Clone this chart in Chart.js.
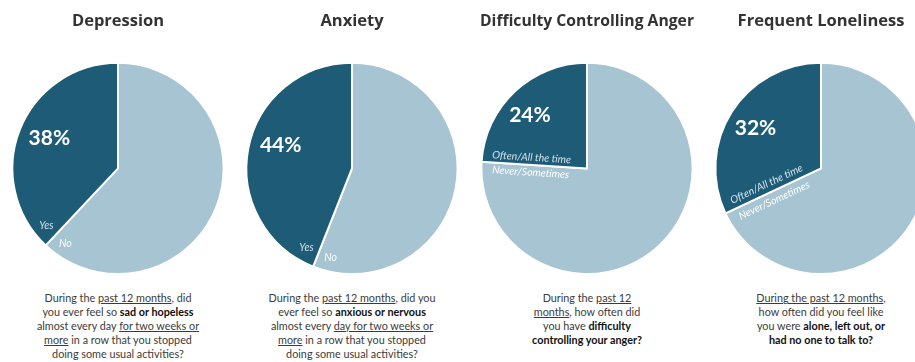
<!DOCTYPE html>
<html>
<head>
<meta charset="utf-8">
<script src="https://cdn.jsdelivr.net/npm/chart.js@4/dist/chart.umd.min.js"></script>
<style>
  html, body { margin: 0; padding: 0; background: #fff; }
  body { position: relative; width: 915px; height: 362px; overflow: hidden; }
  canvas { position: absolute; top: 0; }
  .q {
    position: absolute; top: 291px; width: 220px; text-align: center;
    font-family: Lato, "Open Sans", sans-serif; font-size: 10.8px; line-height: 13.9px;
    color: #3b3b3b;
  }
  .q b { color: #111; }
  .q u { text-decoration-thickness: 1px; text-underline-offset: 1px; }
</style>
</head>
<body>
<canvas id="c0" width="234" height="275"></canvas>
<canvas id="c1" width="234" height="275"></canvas>
<canvas id="c2" width="234" height="275"></canvas>
<canvas id="c3" width="234" height="275"></canvas>

<div class="q" id="q0">During the <u>past 12 months</u>, did<br>you ever feel so <b>sad or hopeless</b><br>almost every day <u>for two weeks or</u><br><u>more</u> in a row that you stopped<br>doing some usual activities?</div>
<div class="q" id="q1">During the <u>past 12 months</u>, did you<br>ever feel so <b>anxious or nervous</b><br>almost every <u>day for two weeks or</u><br><u>more</u> in a row that you stopped<br>doing some usual activities?</div>
<div class="q" id="q2">During the <u>past 12</u><br><u>months</u>, how often did<br>you have <b>difficulty</b><br><b>controlling your anger?</b></div>
<div class="q" id="q3"><u>During the past 12 months</u>,<br>how often did you feel like<br>you were <b>alone, left out, or</b><br><b>had no one to talk to?</b></div>

<script>
// Survey results: share answering yes / often for each question
const titles = ['Depression', 'Anxiety', 'Difficulty Controlling Anger', 'Frequent Loneliness'];
const yesShare = [38, 44, 24, 32];
const noShare = [62, 56, 76, 68];
const yesLabels = ['Yes', 'Yes', 'Often/All the time', 'Often/All the time'];
const noLabels = ['No', 'No', 'Never/Sometimes', 'Never/Sometimes'];

// Layout of each panel (pie centre x on the page)
const centersX = [118, 352, 587, 821];
// Percentage label offset, as a fraction of the radius from the pie centre
const pctOffsets = [[-0.65, -0.29], [-0.675, -0.22], [-0.54, -0.50], [-0.62, -0.38]];
// Answer labels: distance along the dividing edge, offset across it, and whether they follow it
const answerPlacement = [
  { along: 0.86, across: 13, follow: false },
  { along: 0.86, across: 13, follow: false },
  { along: 0.53, across: 7.5, follow: true },
  { along: 0.53, across: 9, follow: true }
];

const DARK = '#1e5b76';
const LIGHT = '#a6c4d2';

const sliceLabels = {
  id: 'sliceLabels',
  afterDatasetsDraw(chart) {
    const i = chart.options.plugins.sliceLabels.index;
    const arc = chart.getDatasetMeta(0).data[1];
    const p = arc.getProps(['x', 'y', 'outerRadius', 'startAngle'], true);
    const cx = p.x, cy = p.y, r = p.outerRadius, a = p.startAngle;
    const ctx = chart.ctx;
    ctx.save();
    ctx.textAlign = 'center';
    ctx.textBaseline = 'middle';

    // percentage in the highlighted slice
    ctx.fillStyle = '#ffffff';
    ctx.font = 'bold 21px Lato, "Open Sans", sans-serif';
    ctx.fillText(yesShare[i] + '%', cx + pctOffsets[i][0] * r, cy + pctOffsets[i][1] * r);

    // answer labels either side of the dividing edge
    const pl = answerPlacement[i];
    const dx = Math.cos(a), dy = Math.sin(a);
    const nx = -Math.sin(a), ny = Math.cos(a);
    const bx = cx + dx * pl.along * r, by = cy + dy * pl.along * r;
    const draw = (text, sign, color) => {
      ctx.save();
      ctx.translate(bx + nx * pl.across * sign, by + ny * pl.across * sign);
      if (pl.follow) ctx.rotate(a - Math.PI);
      ctx.fillStyle = color;
      ctx.font = 'italic 10.5px Lato, "Open Sans", sans-serif';
      ctx.fillText(text, 0, 0);
      ctx.restore();
    };
    draw(yesLabels[i], 1, '#cfe2ea');
    draw(noLabels[i], -1, '#ffffff');
    ctx.restore();
  }
};

titles.forEach((t, i) => {
  const cv = document.getElementById('c' + i);
  cv.style.left = (centersX[i] - 117) + 'px';
  const q = document.getElementById('q' + i);
  q.style.left = (centersX[i] - 110) + 'px';
  new Chart(cv, {
    type: 'pie',
    data: {
      labels: [noLabels[i], yesLabels[i]],
      datasets: [{
        data: [noShare[i], yesShare[i]],
        backgroundColor: [LIGHT, DARK],
        borderColor: '#ffffff',
        borderWidth: 2
      }]
    },
    options: {
      responsive: false,
      devicePixelRatio: 1,
      animation: false,
      events: [],
      rotation: 0,
      layout: { padding: { left: 10, right: 10, top: 0, bottom: 0 } },
      plugins: {
        legend: { display: false },
        tooltip: { enabled: false },
        title: {
          display: true,
          text: t,
          color: '#333333',
          font: { family: '"Open Sans", Lato, sans-serif', size: 16.5, weight: 'bold' },
          padding: { top: 11, bottom: 31 }
        },
        sliceLabels: { index: i }
      }
    },
    plugins: [sliceLabels]
  });
});
</script>
</body>
</html>
